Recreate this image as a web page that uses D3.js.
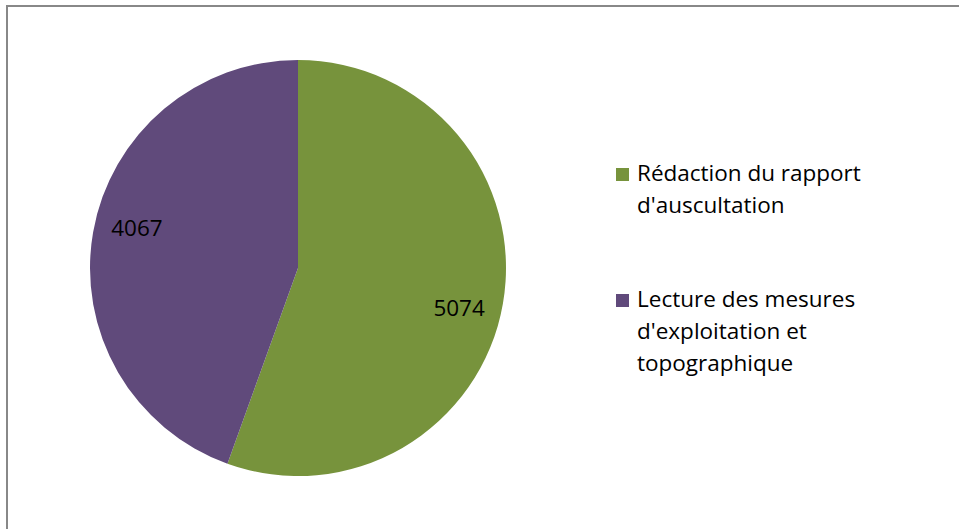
<!DOCTYPE html>
<html>
<head>
<meta charset="utf-8">
<script src="https://cdn.jsdelivr.net/npm/d3@7"></script>
<style>
  body { margin: 0; background: #fff; }
  text { font-family: "Open Sans", sans-serif; fill: #000; }
</style>
</head>
<body>
<script>
// data
var categories = ["Rédaction du rapport d'auscultation", "Lecture des mesures d'exploitation et topographique"];
var values = [5074, 4067];
var legendLines = [["Rédaction du rapport", "d'auscultation"], ["Lecture des mesures", "d'exploitation et", "topographique"]];
var colors = ["#77933c", "#604a7b"];

var W = 959, H = 529;
var cx = 298, cy = 268, radius = 208;

var svg = d3.select("body").append("svg")
    .attr("width", W)
    .attr("height", H);

// chart frame
svg.append("rect")
    .attr("x", 7).attr("y", 6)
    .attr("width", W + 10).attr("height", H + 10)
    .style("fill", "#fff")
    .style("stroke", "#888")
    .style("stroke-width", 2);

var pie = d3.pie().sort(null).value(function(d) { return d; });
var arcs = pie(values);

var arc = d3.arc().innerRadius(0).outerRadius(radius);

var g = svg.append("g")
    .attr("transform", "translate(" + cx + "," + cy + ")");

g.selectAll("path")
    .data(arcs)
    .enter().append("path")
    .attr("d", arc)
    .style("fill", function(d, i) { return colors[i]; });

// labels, excel puts them a bit past the mid angle
var labelR = 166, shift = 0.07;
g.selectAll(".lbl")
    .data(arcs)
    .enter().append("text")
    .attr("class", "lbl")
    .attr("x", function(d) { var a = (d.startAngle + d.endAngle) / 2 + shift; return labelR * Math.sin(a); })
    .attr("y", function(d) { var a = (d.startAngle + d.endAngle) / 2 + shift; return -labelR * Math.cos(a); })
    .attr("dy", "0.35em")
    .attr("text-anchor", "middle")
    .style("font-size", "22.5px")
    .text(function(d) { return d.data; });

// legend
var legendY = [168, 294];
var leg = svg.selectAll(".leg")
    .data(categories)
    .enter().append("g")
    .attr("class", "leg")
    .attr("transform", function(d, i) { return "translate(616," + legendY[i] + ")"; });

leg.append("rect")
    .attr("width", 13).attr("height", 13)
    .style("fill", function(d, i) { return colors[i]; });

leg.append("text")
    .style("font-size", "22.5px")
    .selectAll("tspan")
    .data(function(d, i) { return legendLines[i]; })
    .enter().append("tspan")
    .attr("x", 21)
    .attr("y", function(d, j) { return 13 + j * 32; })
    .text(function(d) { return d; });
</script>
</body>
</html>
